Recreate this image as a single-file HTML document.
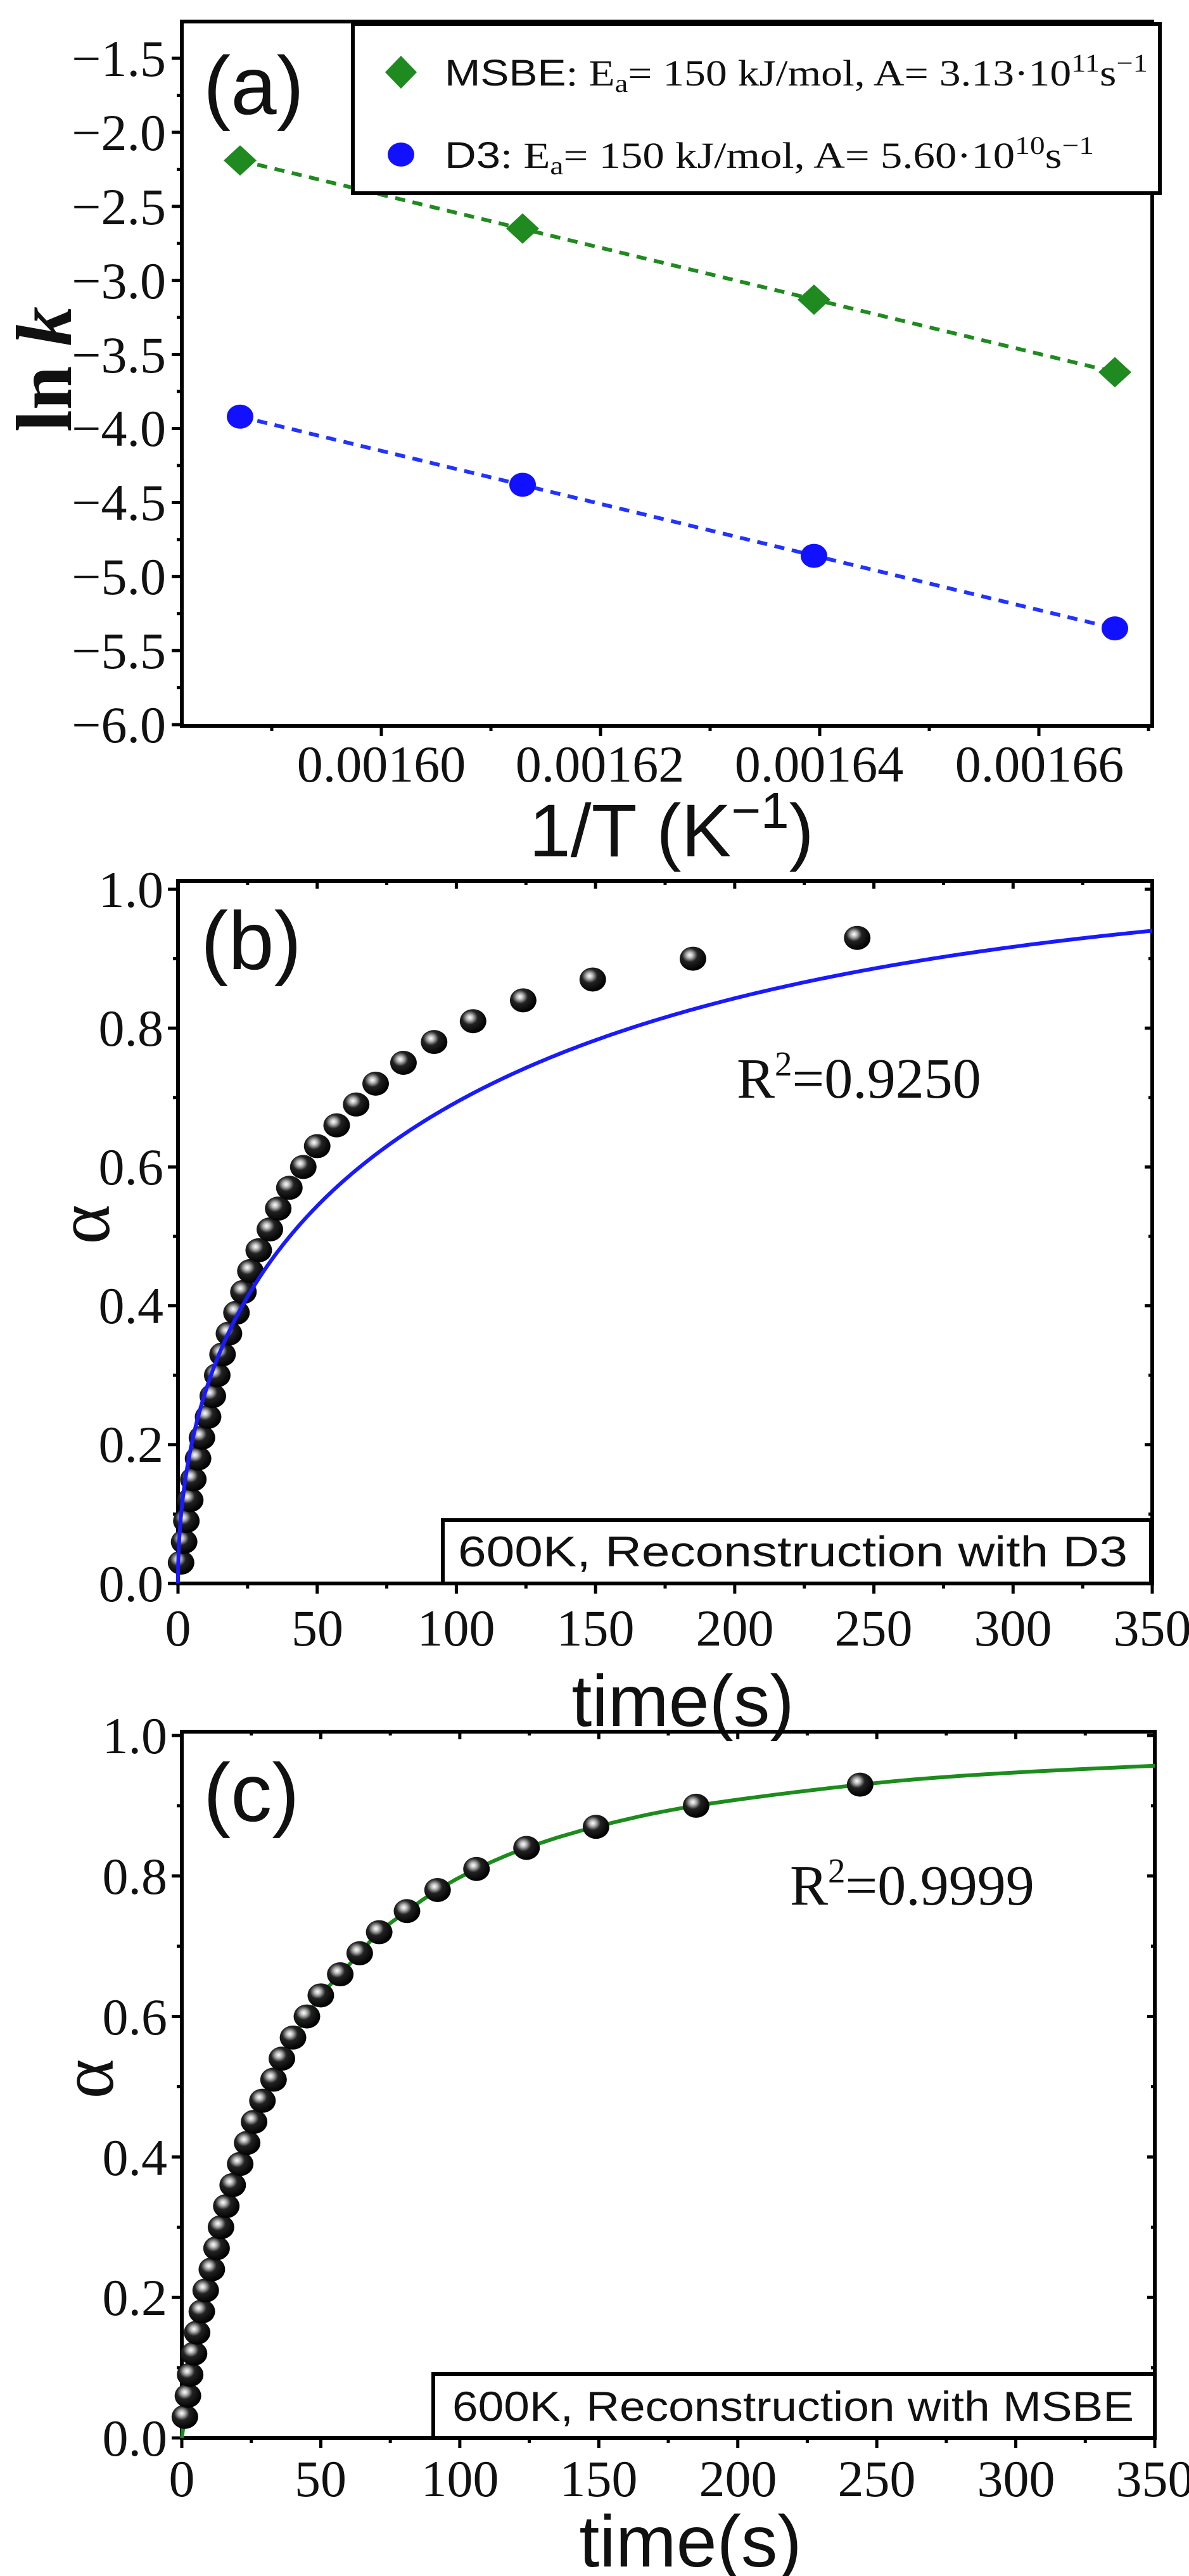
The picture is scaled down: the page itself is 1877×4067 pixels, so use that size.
<!DOCTYPE html>
<html><head><meta charset="utf-8"><style>
html,body{margin:0;padding:0;background:#fff}
svg{display:block}
.sans{font-family:"Liberation Sans",sans-serif;fill:#111}
.ser{font-family:"Liberation Serif",serif;fill:#111}
.tk text{font-family:"Liberation Serif",serif;font-size:82px;fill:#111}
</style></head><body>
<svg id="s" width="1877" height="4067" viewBox="0 0 1877 4067" xmlns="http://www.w3.org/2000/svg">
<defs>
<radialGradient id="ball" cx="0.38" cy="0.35" r="0.65">
<stop offset="0" stop-color="#fff"/><stop offset="0.18" stop-color="#bbb"/><stop offset="0.45" stop-color="#222"/><stop offset="1" stop-color="#000"/>
</radialGradient>
</defs>
<g id="pa"></g>
<rect x="287" y="34" width="1532" height="1112" fill="none" stroke="#000" stroke-width="6"/>
<g class="tk" text-anchor="end">
<text class="ser" x="262" y="120">−1.5</text><text class="ser" x="262" y="237">−2.0</text><text class="ser" x="262" y="354">−2.5</text>
<text class="ser" x="262" y="471">−3.0</text><text class="ser" x="262" y="588">−3.5</text><text class="ser" x="262" y="704">−4.0</text>
<text class="ser" x="262" y="821">−4.5</text><text class="ser" x="262" y="938">−5.0</text><text class="ser" x="262" y="1055">−5.5</text>
<text class="ser" x="262" y="1172">−6.0</text>
</g>
<g class="tk" text-anchor="middle">
<text class="ser" x="602" y="1234">0.00160</text><text class="ser" x="947" y="1234">0.00162</text>
<text class="ser" x="1293" y="1234">0.00164</text><text class="ser" x="1641" y="1234">0.00166</text>
</g>
<text class="sans" x="321" y="180" font-size="130">(a)</text>
<text class="ser" font-size="125" font-weight="bold" transform="translate(112,583) rotate(-90)" text-anchor="middle">ln <tspan font-style="italic">k</tspan></text>
<text class="sans" x="1060" y="1352" font-size="118" text-anchor="middle">1/T (K<tspan font-size="80" dy="-45">−1</tspan><tspan dy="45">)</tspan></text>
<rect x="557" y="38" width="1274" height="267" fill="#fff" stroke="#000" stroke-width="6"/>
<polygon points="633,88 658,114 633,140 608,114" fill="#1f8a1f"/>
<ellipse cx="633" cy="244" rx="21" ry="19" fill="#1111ff"/>
<text x="702" y="135" font-size="58" textLength="1110" lengthAdjust="spacingAndGlyphs"><tspan class="sans">MSBE</tspan><tspan class="ser">: E<tspan font-size="40" dy="10">a</tspan><tspan dy="-10">= 150 kJ/mol, A= 3.13·10</tspan><tspan font-size="40" dy="-22">11</tspan><tspan dy="22">s</tspan><tspan font-size="40" dy="-22">−1</tspan></tspan></text>
<text x="702" y="265" font-size="58" textLength="1025" lengthAdjust="spacingAndGlyphs"><tspan class="sans">D3</tspan><tspan class="ser">: E<tspan font-size="40" dy="10">a</tspan><tspan dy="-10">= 150 kJ/mol, A= 5.60·10</tspan><tspan font-size="40" dy="-22">10</tspan><tspan dy="22">s</tspan><tspan font-size="40" dy="-22">−1</tspan></tspan></text>
<!-- Panel b -->
<rect x="281" y="1391" width="1538" height="1109" fill="none" stroke="#000" stroke-width="6"/>
<g class="tk" text-anchor="end">
<text class="ser" x="258" y="1432">1.0</text><text class="ser" x="258" y="1651">0.8</text><text class="ser" x="258" y="1870">0.6</text>
<text class="ser" x="258" y="2089">0.4</text><text class="ser" x="258" y="2308">0.2</text><text class="ser" x="258" y="2528">0.0</text>
</g>
<g class="tk" text-anchor="middle">
<text class="ser" x="281" y="2598">0</text><text class="ser" x="501" y="2598">50</text><text class="ser" x="720" y="2598">100</text><text class="ser" x="940" y="2598">150</text>
<text class="ser" x="1160" y="2598">200</text><text class="ser" x="1379" y="2598">250</text><text class="ser" x="1599" y="2598">300</text><text class="ser" x="1819" y="2598">350</text>
</g>
<text class="sans" x="317" y="1530" font-size="130">(b)</text>
<text class="ser" font-size="120" transform="translate(172,1933) rotate(-90)" text-anchor="middle">α</text>
<text class="sans" x="1078" y="2725" font-size="115" text-anchor="middle">time(s)</text>
<text class="ser" x="1163" y="1733" font-size="90">R<tspan font-size="55" dy="-35">2</tspan><tspan dy="35">=0.9250</tspan></text>
<rect x="699" y="2400" width="1118" height="100" fill="#fff" stroke="#000" stroke-width="6"/>
<text class="sans" x="723" y="2473" font-size="68" textLength="1057" lengthAdjust="spacingAndGlyphs">600K, Reconstruction with D3</text>
<!-- Panel c -->
<rect x="287" y="2734" width="1536" height="1115" fill="none" stroke="#000" stroke-width="6"/>
<g class="tk" text-anchor="end">
<text class="ser" x="264" y="2768">1.0</text><text class="ser" x="264" y="2990">0.8</text><text class="ser" x="264" y="3212">0.6</text>
<text class="ser" x="264" y="3434">0.4</text><text class="ser" x="264" y="3655">0.2</text><text class="ser" x="264" y="3877">0.0</text>
</g>
<g class="tk" text-anchor="middle">
<text class="ser" x="287" y="3941">0</text><text class="ser" x="506" y="3941">50</text><text class="ser" x="726" y="3941">100</text><text class="ser" x="945" y="3941">150</text>
<text class="ser" x="1165" y="3941">200</text><text class="ser" x="1384" y="3941">250</text><text class="ser" x="1604" y="3941">300</text><text class="ser" x="1823" y="3941">350</text>
</g>
<text class="sans" x="321" y="2875" font-size="130">(c)</text>
<text class="ser" font-size="120" transform="translate(178,3282) rotate(-90)" text-anchor="middle">α</text>
<text class="sans" x="1090" y="4052" font-size="115" text-anchor="middle">time(s)</text>
<text class="ser" x="1247" y="3007" font-size="90">R<tspan font-size="55" dy="-35">2</tspan><tspan dy="35">=0.9999</tspan></text>
<rect x="684" y="3748" width="1139" height="101" fill="#fff" stroke="#000" stroke-width="6"/>
<text class="sans" x="714" y="3822" font-size="66" textLength="1076" lengthAdjust="spacingAndGlyphs">600K, Reconstruction with MSBE</text>
</svg>
<script>
(function(){
var NS="http://www.w3.org/2000/svg",s=document.getElementById("s");
function el(n,a,p){var e=document.createElementNS(NS,n);for(var k in a)e.setAttribute(k,a[k]);(p||s).appendChild(e);return e;}
var pa=document.getElementById("pa");
function ya(v){return 92+(-1.5-v)/0.5*116.9;}
var xs=[379,825,1285,1760],g=[-2.19,-2.65,-3.13,-3.62],b=[-3.92,-4.38,-4.86,-5.35];
el("line",{x1:379,y1:ya(-2.19),x2:1760,y2:ya(-3.62),stroke:"#1f8a1f","stroke-width":6,"stroke-dasharray":"16,12"},pa);
el("line",{x1:379,y1:ya(-3.92),x2:1760,y2:ya(-5.35),stroke:"#2233ff","stroke-width":6,"stroke-dasharray":"16,12"},pa);
for(var i=0;i<4;i++){var x=xs[i],y=ya(g[i]);
el("polygon",{points:(x)+","+(y-24)+" "+(x+26)+","+y+" "+x+","+(y+24)+" "+(x-26)+","+y,fill:"#1f8a1f"},pa);
el("ellipse",{cx:x,cy:ya(b[i]),rx:21,ry:19,fill:"#1111ff"},pa);}
function tick(x1,y1,x2,y2){el("line",{x1:x1,y1:y1,x2:x2,y2:y2,stroke:"#000","stroke-width":5});}
for(var v=-6;v<=-1.5;v+=0.25){var y=ya(v),L=(Math.abs(v*2-Math.round(v*2))<1e-6)?16:8;tick(287,y,287-L,y);}
for(var k=0;k<9;k++){var x=602+(k-1)*173;if(x>290&&x<1819){tick(x,1146,x,1146+(k%2?16:8));}}
function axes(L,R,B,T,yfun){for(var a=0;a<=1.0001;a+=0.1){var y=yfun(a);tick(L,y,L-(Math.round(a*10)%2?8:16),y);tick(R,y,R-(Math.round(a*10)%2?6:12),y);}
for(var t=0;t<=350;t+=25){var x=L+t*(R-L)/350;tick(x,B,x,B+(t%50?8:16));tick(x,T,x,T+(t%50?6:12));}}
function yb(a){return 2500-a*1096;} function xb(t){return 281+t*1538/350;}
function yc(a){return 3849-a*1109;} function xc(t){return 287+t*1536/350;}
axes(281,1819,2500,1391,yb); axes(287,1823,3849,2734,yc);
var T=[1.1,2.2,3.0,4.4,5.5,7.2,8.6,10.8,12.5,14.1,16,18.3,21,23.5,26,29,33,36,40,45,50,57,64,71,81,92,106,124,149,185,244];
var k=0.00106,d="";
for(var i=0;i<=400;i++){var t=350*Math.pow(i/400,2);var q=Math.sqrt(k*t);var a=1-Math.pow(1-q,3);d+=(i?"L":"M")+xb(t).toFixed(1)+","+yb(a).toFixed(1);}
var P=[[0,0]];for(var i=0;i<T.length;i++)P.push([T[i],0.03*(i+1)]);P.push([290,0.945]);P.push([350,0.957]);
var dm="M"+xc(0)+","+yc(0);
for(var i=0;i<P.length-1;i++){var p0=P[Math.max(0,i-1)],p1=P[i],p2=P[i+1],p3=P[Math.min(P.length-1,i+2)];
for(var j=1;j<=10;j++){var u=j/10,u2=u*u,u3=u2*u;
var cr=function(a,b,c,e){return 0.5*((2*b)+(-a+c)*u+(2*a-5*b+4*c-e)*u2+(-a+3*b-3*c+e)*u3);};
dm+="L"+xc(cr(p0[0],p1[0],p2[0],p3[0])).toFixed(1)+","+yc(cr(p0[1],p1[1],p2[1],p3[1])).toFixed(1);}}
for(var i=0;i<T.length;i++){el("ellipse",{cx:xb(T[i]),cy:yb(0.03*(i+1)),rx:21,ry:19,fill:"url(#ball)"});}
el("path",{d:d,fill:"none",stroke:"#1a1aff","stroke-width":6});
el("path",{d:dm,fill:"none",stroke:"#1c8c1c","stroke-width":6});
for(var i=0;i<T.length;i++){el("ellipse",{cx:xc(T[i]),cy:yc(0.03*(i+1)),rx:21,ry:19,fill:"url(#ball)"});}
})();
</script>
</body></html>
